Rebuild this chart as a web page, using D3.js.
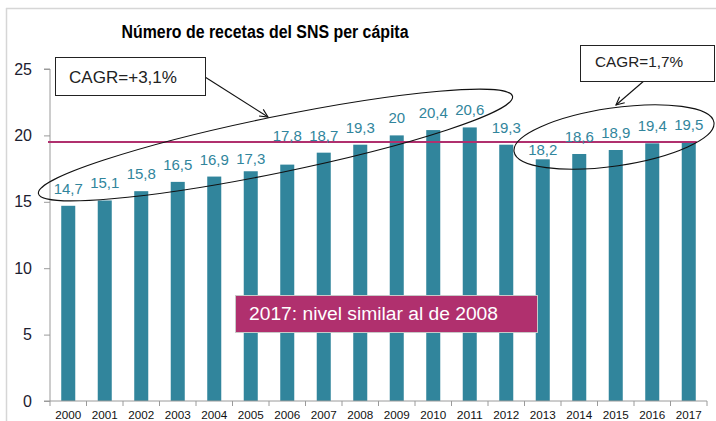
<!DOCTYPE html>
<html>
<head>
<meta charset="utf-8">
<script src="https://cdn.jsdelivr.net/npm/d3@7"></script>
<style>
    body { margin: 0; background: #fff; }
    text { font-family: "Liberation Sans", Arial, sans-serif; }
</style>
</head>
<body>
<svg id="chart" width="716" height="421"></svg>
<script>

/* data */
var years = ["2000", "2001", "2002", "2003", "2004", "2005", "2006", "2007", "2008",
    "2009", "2010", "2011", "2012", "2013", "2014", "2015", "2016", "2017"];
var recetas = [14.7, 15.1, 15.8, 16.5, 16.9, 17.3, 17.8, 18.7, 19.3,
    20, 20.4, 20.6, 19.3, 18.2, 18.6, 18.9, 19.4, 19.5];
var yTicks = [0, 5, 10, 15, 20, 25];
var refLevel = 19.5;

var title = "Número de recetas del SNS per cápita";
var cagr1 = "CAGR=+3,1%";
var cagr2 = "CAGR=1,7%";
var note = "2017: nivel similar al de 2008";

/* labels that were nudged by hand in the original (px) */
var labelLift = {"2005": 12, "2006": 29, "2013": 9};

var teal = "#31859c",
    pink = "#b0306e";

var svg = d3.select("svg");

// frame (top + left only)
svg.append("line").attr("x1", 6).attr("x2", 716).attr("y1", 8.5).attr("y2", 8.5)
    .attr("stroke", "#d6d6d6").attr("stroke-width", 1.5);
svg.append("line").attr("x1", 6.5).attr("x2", 6.5).attr("y1", 8).attr("y2", 421)
    .attr("stroke", "#d6d6d6").attr("stroke-width", 1.5);

var x = d3.scaleBand()
    .domain(years)
    .range([50, 707])
    .paddingInner(0.616)
    .paddingOuter(0.308);

var y = d3.scaleLinear()
    .domain([0, 25])
    .range([401, 69]);

svg.append("text")
    .attr("x", 265)
    .attr("y", 38)
    .attr("text-anchor", "middle")
    .style("font-size", "18px")
    .style("font-weight", "bold")
    .attr("textLength", 287)
    .attr("lengthAdjust", "spacingAndGlyphs")
    .text(title);

// bars
svg.selectAll("rect.bar")
    .data(recetas)
    .enter().append("rect")
    .attr("class", "bar")
    .attr("x", function (d, i) { return x(years[i]); })
    .attr("width", x.bandwidth())
    .attr("y", function (d) { return y(d); })
    .attr("height", function (d) { return y(0) - y(d); })
    .attr("fill", teal);

// y axis
var yAxis = svg.append("g")
    .attr("transform", "translate(50,0)")
    .call(d3.axisLeft(y).tickValues(yTicks).tickSize(6).tickPadding(12));
yAxis.select(".domain").attr("stroke", "#9a9a9a").attr("d", "M-6," + y(25) + "H0V" + y(0));
yAxis.selectAll(".tick line").attr("stroke", "#9a9a9a");
yAxis.selectAll(".tick text")
    .style("font-size", "16px")
    .style("font-family", "'Liberation Sans', Arial, sans-serif")
    .attr("fill", "#1c2030");

// x axis (ticks between categories)
var xg = svg.append("g");
xg.append("line")
    .attr("x1", 44).attr("x2", 707)
    .attr("y1", y(0)).attr("y2", y(0))
    .attr("stroke", "#9a9a9a");
xg.selectAll("line.tk")
    .data(d3.range(years.length + 1))
    .enter().append("line")
    .attr("class", "tk")
    .attr("x1", function (i) { return 50 + i * x.step(); })
    .attr("x2", function (i) { return 50 + i * x.step(); })
    .attr("y1", y(0)).attr("y2", y(0) + 5)
    .attr("stroke", "#9a9a9a");
xg.selectAll("text")
    .data(years)
    .enter().append("text")
    .attr("x", function (d) { return x(d) + x.bandwidth() / 2; })
    .attr("y", 419)
    .attr("text-anchor", "middle")
    .attr("textLength", 26)
    .attr("lengthAdjust", "spacingAndGlyphs")
    .style("font-size", "11px")
    .attr("fill", "#111")
    .text(function (d) { return d; });

// reference line
svg.append("line")
    .attr("x1", 48)
    .attr("x2", x("2017") + x.bandwidth() + 1)
    .attr("y1", y(refLevel)).attr("y2", y(refLevel))
    .attr("stroke", pink)
    .attr("stroke-width", 2);

// value labels
svg.selectAll("text.val")
    .data(recetas)
    .enter().append("text")
    .attr("class", "val")
    .attr("x", function (d, i) { return x(years[i]) + x.bandwidth() / 2; })
    .attr("y", function (d, i) {
        var lift = labelLift[years[i]] !== undefined ? labelLift[years[i]] : 17;
        return y(d) - lift + 5;
    })
    .attr("text-anchor", "middle")
    .style("font-size", "15px")
    .attr("fill", teal)
    .text(function (d) { return String(d).replace(".", ","); });

// annotations
var ann = svg.append("g").attr("fill", "none").attr("stroke", "#111").attr("stroke-width", 1.1);

ann.append("ellipse")
    .attr("cx", 0).attr("cy", 0).attr("rx", 242).attr("ry", 28)
    .attr("transform", "translate(275.5,145) rotate(-11.6)");
ann.append("ellipse")
    .attr("cx", 0).attr("cy", 0).attr("rx", 101).attr("ry", 29)
    .attr("transform", "translate(614,137) rotate(-8.3)");

function arrow(x1, y1, x2, y2) {
    ann.append("line").attr("x1", x1).attr("y1", y1).attr("x2", x2).attr("y2", y2);
    var a = Math.atan2(y2 - y1, x2 - x1), L = 9, s = 0.45;
    ann.append("path")
        .attr("d", "M" + (x2 - L * Math.cos(a - s)) + "," + (y2 - L * Math.sin(a - s)) +
            "L" + x2 + "," + y2 +
            "L" + (x2 - L * Math.cos(a + s)) + "," + (y2 - L * Math.sin(a + s)));
}
arrow(205, 77, 268, 117);
arrow(645, 80, 616, 105);

svg.append("rect")
    .attr("x", 55.5).attr("y", 57.5).attr("width", 150).attr("height", 38)
    .attr("fill", "#fff").attr("stroke", "#222");
svg.append("text")
    .attr("x", 69).attr("y", 83)
    .attr("textLength", 108).attr("lengthAdjust", "spacingAndGlyphs")
    .style("font-size", "16px").attr("fill", "#222")
    .text(cagr1);

svg.append("rect")
    .attr("x", 580.5).attr("y", 45.5).attr("width", 134).attr("height", 36)
    .attr("fill", "#fff").attr("stroke", "#222");
svg.append("text")
    .attr("x", 595).attr("y", 67)
    .attr("textLength", 88).attr("lengthAdjust", "spacingAndGlyphs")
    .style("font-size", "15px").attr("fill", "#222")
    .text(cagr2);

// note box
svg.append("rect")
    .attr("x", 235.5).attr("y", 295.5).attr("width", 302).attr("height", 37)
    .attr("fill", pink).attr("stroke", "#c8c8c8");
svg.append("text")
    .attr("x", 249).attr("y", 320)
    .attr("textLength", 249).attr("lengthAdjust", "spacingAndGlyphs")
    .style("font-size", "18px").attr("fill", "#fff")
    .text(note);

</script>
</body>
</html>
